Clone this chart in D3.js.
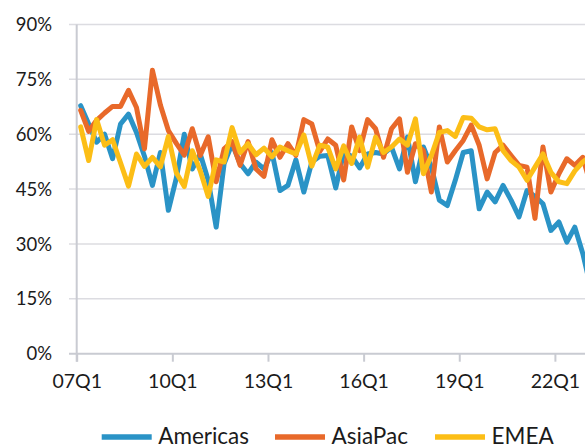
<!DOCTYPE html>
<html>
<head>
<meta charset="utf-8">
<script src="https://cdn.jsdelivr.net/npm/d3@7"></script>
<style>
  body { margin: 0; background: #fff; }
  svg { display: block; font-family: Lato, "Noto Sans", sans-serif; }
</style>
</head>
<body>
<div id="chart"></div>
<script>
// CONSTANTS
const WIDTH = 585;
const HEIGHT = 445;

// DATA (share of respondents, %, quarterly from 07Q1)
const seriesNames = ["Americas", "AsiaPac", "EMEA"];
const seriesColors = ["#2a93c6", "#e8692a", "#fcbe16"];

const americas = [67.8, 62.8, 57.8, 60, 53.3, 62.8, 65.5, 60.5, 54, 46,
  55, 39.2, 48, 60, 50.5, 54.6, 47.4, 34.6, 52, 57.4,
  52, 49.2, 52.4, 50.5, 55, 44.6, 46, 53, 44.2, 52.4,
  54, 54.2, 45.3, 55, 54, 50.8, 54.6, 55, 54.6, 56.5,
  50.5, 59.2, 47, 56.5, 51, 42, 40.5, 47.4, 55, 55.5,
  39.6, 44.2, 41.5, 46, 42, 37.4, 44.6, 43, 41, 33.7,
  36, 30.5, 34.6, 27.4, 18];

const asiaPac = [66.5, 60.8, 63.8, 65.8, 67.6, 67.6, 72, 67.3, 56, 77.5,
  68, 61, 57.5, 54.3, 61.5, 54.2, 59.3, 47, 56, 58,
  51.5, 58, 50.5, 48.5, 58.5, 53.7, 57.4, 54.2, 64, 62.8,
  55.3, 58.7, 57, 47.5, 62, 55.5, 64, 61.5, 53.7, 61.5,
  64.2, 49.6, 57.4, 55.5, 44.2, 62, 52.4, 55.5, 58.3, 62.5,
  57, 47.8, 55, 57, 54.2, 51.5, 51, 37, 56.5, 44.2,
  49.2, 53.3, 51.5, 53.7, 46];

const emea = [62, 52.8, 64, 57, 58.5, 52.2, 45.8, 54.6, 51.2, 53.7,
  51.1, 59.4, 49.5, 45.7, 55.5, 50, 43, 53, 52.4, 61.8,
  55, 57.4, 54.4, 56.2, 53.8, 56.5, 55.5, 54.6, 59.8, 51.3,
  57, 56.5, 50.5, 56.8, 52, 59.2, 51, 59.2, 55, 56.5,
  58.7, 57, 64.2, 49.2, 54.2, 60.5, 61, 59.4, 64.6, 64.4,
  62, 61.2, 61.5, 55.5, 52.8, 51, 47.4, 51, 54.6, 49.6,
  47, 46.5, 50, 52.4, 54];

const xTickLabels = ["07Q1", "10Q1", "13Q1", "16Q1", "19Q1", "22Q1"];
const yTicks = [0, 15, 30, 45, 60, 75, 90];

const seriesData = [americas, asiaPac, emea];
const nQuarters = americas.length;

// LAYOUT
const plotLeft = 76.7;
const quarterStep = 7.97;
const plotTop = 24.5;
const plotBottom = 353.7;

const svg = d3.select("#chart")
  .append("svg")
  .attr("width", WIDTH)
  .attr("height", HEIGHT);

const xScale = d3.scaleLinear()
  .domain([0, nQuarters])
  .range([plotLeft, plotLeft + quarterStep * nQuarters]);

const yScale = d3.scaleLinear()
  .domain([0, 90])
  .range([plotBottom, plotTop]);

// gridlines
svg.append("g")
  .selectAll("line")
  .data(yTicks.filter(d => d > 0))
  .enter()
  .append("line")
  .attr("x1", 69)
  .attr("x2", WIDTH)
  .attr("y1", d => yScale(d))
  .attr("y2", d => yScale(d))
  .attr("stroke", "#dcdce1")
  .attr("stroke-width", 1.5);

// y axis labels
svg.append("g")
  .selectAll("text")
  .data(yTicks)
  .enter()
  .append("text")
  .attr("x", 52)
  .attr("y", d => yScale(d))
  .attr("dy", "0.36em")
  .attr("text-anchor", "end")
  .attr("font-size", 18.5)
  .attr("fill", "#1b1b1b")
  .text(d => d + "%");

// x axis (baseline + ticks every 12 quarters)
const xAxis = d3.axisBottom(xScale)
  .tickValues(xTickLabels.map((d, i) => i * 12))
  .tickFormat((d, i) => xTickLabels[i])
  .tickSizeInner(8)
  .tickSizeOuter(0)
  .tickPadding(12);

const xAxisG = svg.append("g")
  .attr("transform", `translate(0,${plotBottom})`)
  .call(xAxis);

xAxisG.select(".domain").remove();
xAxisG.selectAll(".tick line")
  .attr("stroke", "#c9cbd2")
  .attr("stroke-width", 2);
xAxisG.selectAll(".tick text")
  .attr("font-size", 19.5)
  .attr("font-family", "Lato, 'Noto Sans', sans-serif")
  .attr("fill", "#1b1b1b");

svg.append("line")
  .attr("x1", 69)
  .attr("x2", WIDTH)
  .attr("y1", plotBottom)
  .attr("y2", plotBottom)
  .attr("stroke", "#c9cbd2")
  .attr("stroke-width", 2);

svg.append("line")
  .attr("x1", plotLeft)
  .attr("x2", plotLeft)
  .attr("y1", plotTop)
  .attr("y2", plotBottom + 8)
  .attr("stroke", "#c9cbd2")
  .attr("stroke-width", 2);

// LINES
const lineGen = d3.line()
  .x((d, i) => xScale(i + 0.5))
  .y(d => yScale(d));

svg.append("g")
  .selectAll("path")
  .data(seriesData)
  .enter()
  .append("path")
  .attr("d", lineGen)
  .attr("fill", "none")
  .attr("stroke", (d, i) => seriesColors[i])
  .attr("stroke-width", 5)
  .attr("stroke-linejoin", "round")
  .attr("stroke-linecap", "round");

// LEGEND (cut off by the bottom edge, as in the original)
const legendX = [101.7, 275, 435];
const legend = svg.append("g")
  .selectAll("g")
  .data(seriesNames)
  .enter()
  .append("g")
  .attr("transform", (d, i) => `translate(${legendX[i]},437)`);

legend.append("line")
  .attr("x1", 0)
  .attr("x2", 50)
  .attr("stroke", (d, i) => seriesColors[i])
  .attr("stroke-width", 5.5);

legend.append("text")
  .attr("x", 56.5)
  .attr("y", 6.5)
  .attr("font-size", 22.5)
  .attr("fill", "#1b1b1b")
  .text(d => d);
</script>
</body>
</html>
